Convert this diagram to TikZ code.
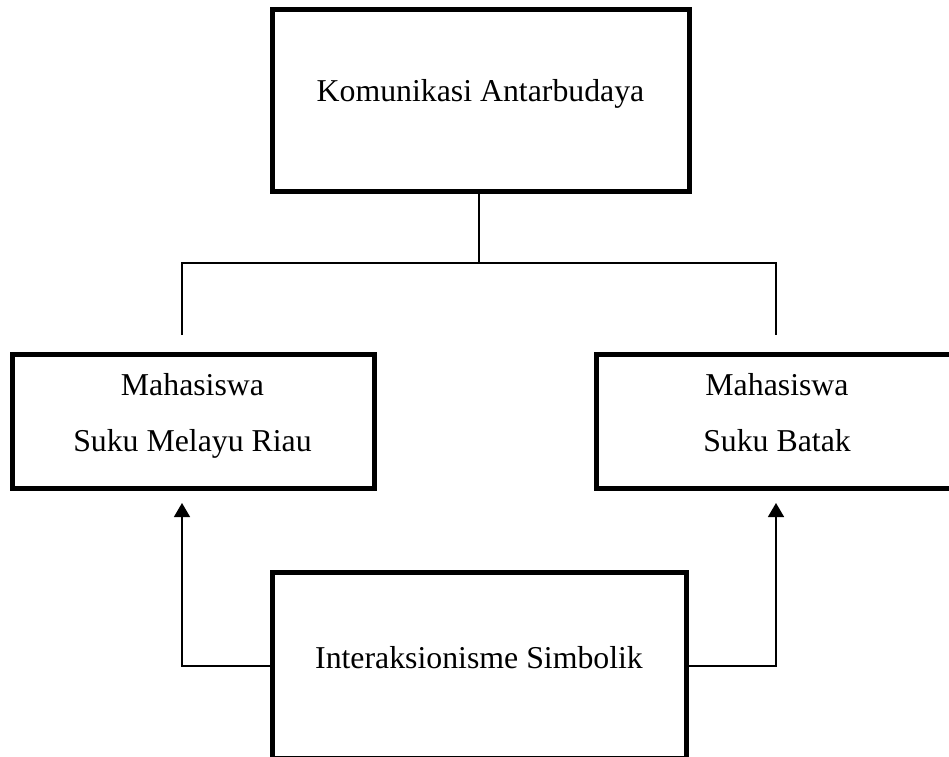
\documentclass[tikz,border=0pt]{standalone}
\usepackage{fontspec}
\setmainfont{Liberation Serif}
\usetikzlibrary{arrows.meta}
\begin{document}
\begin{tikzpicture}[x=1pt,y=-1pt,
  box/.style={draw=black,line width=5pt,rectangle,inner sep=0pt,outer sep=0pt},
  lbl/.style={anchor=base,inner sep=0pt,font=\fontsize{31.8}{38}\selectfont},
  conn/.style={draw=black,line width=1.5pt},
  arr/.style={conn,-{Triangle[width=16pt,length=14pt]}}]
\useasboundingbox (0,0) rectangle (949,756);
% boxes
\node[box,minimum width=417pt,minimum height=181.5pt] (top) at (480.5,100.25) {};
\node[box,minimum width=361.5pt,minimum height=134.5pt] (left) at (193.25,421.25) {};
\node[box,minimum width=361pt,minimum height=134.5pt] (right) at (777,421.25) {};
\node[box,minimum width=413.5pt,minimum height=185.5pt] (bot) at (479.25,665.25) {};
% texts
\node[lbl] (topt) at (480.5,101.7) {Komunikasi Antarbudaya};
\node[lbl] (left1) at (192.5,395) {Mahasiswa};
\node[lbl] (left2) at (192.5,451) {Suku Melayu Riau};
\node[lbl] (right1) at (777,395) {Mahasiswa};
\node[lbl] (right2) at (777,451) {Suku Batak};
\node[lbl] (bott) at (479,668.3) {Interaksionisme Simbolik};
% tree connectors
\coordinate (hub) at (479,263);
\coordinate (hl) at (182,263);
\coordinate (hr) at (776,263);
\coordinate (el) at (182,335);
\coordinate (er) at (776,335);
\draw[conn] (top.south -| hub) -- (hub);
\draw[conn] (el) -- (hl) -- (hr) -- (er);
% arrows
\coordinate (al) at (182,503);
\coordinate (ar) at (776,503);
\draw[arr] (bot.west |- 0,666) -| (al);
\draw[arr] (bot.east |- 0,666) -| (ar);
\end{tikzpicture}
\end{document}
